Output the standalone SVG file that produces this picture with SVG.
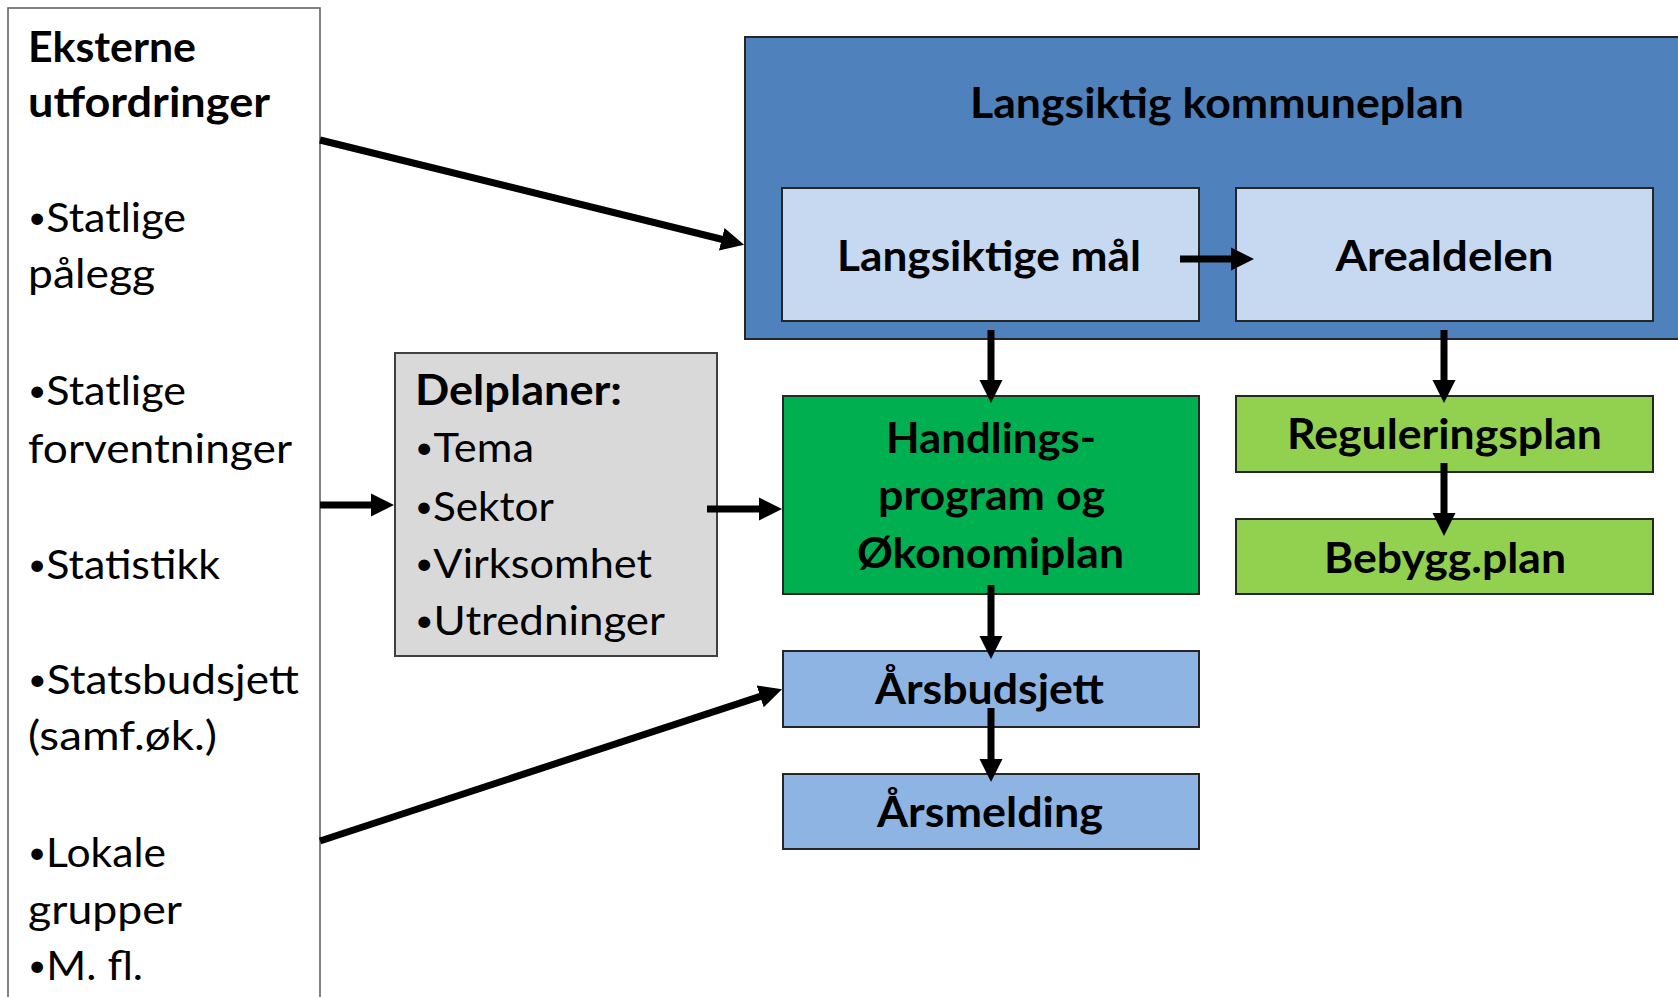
<svg xmlns="http://www.w3.org/2000/svg" width="1678" height="997" viewBox="0 0 1678 997">
<defs>
<style>
.box{stroke:#262626;stroke-width:2}
.t{font-family:Lato,"Open Sans","Liberation Sans",sans-serif;font-size:42px;fill:#000}
.b{font-weight:bold}
.c{text-anchor:middle}
.r{font-size:41px}
.bu{font-size:30px}
.conn{stroke:#000;stroke-width:7;fill:none;marker-end:url(#ah)}
</style>
<marker id="ah" markerUnits="userSpaceOnUse" viewBox="0 -12 24 24" refX="1" refY="0" markerWidth="24" markerHeight="24" orient="auto">
<path d="M0,-11.5 L23,0 L0,11.5 Z" fill="#000"/>
</marker>
</defs>
<rect width="1678" height="997" fill="#fff"/>

<g id="eksterne">
<rect x="8" y="8" width="312" height="1010" fill="#fff" stroke="#595959" stroke-width="1.5"/>
<text class="t b" x="28" y="62" textLength="168" lengthAdjust="spacingAndGlyphs">Eksterne</text>
<text class="t b" x="28" y="117" textLength="242" lengthAdjust="spacingAndGlyphs">utfordringer</text>
<text class="t r" x="28" y="232" textLength="158" lengthAdjust="spacingAndGlyphs"><tspan class="bu" dy="-4">•</tspan><tspan dy="4">Statlige</tspan></text>
<text class="t r" x="28" y="288" textLength="127" lengthAdjust="spacingAndGlyphs">pålegg</text>
<text class="t r" x="28" y="405" textLength="158" lengthAdjust="spacingAndGlyphs"><tspan class="bu" dy="-4">•</tspan><tspan dy="4">Statlige</tspan></text>
<text class="t r" x="28" y="463" textLength="264" lengthAdjust="spacingAndGlyphs">forventninger</text>
<text class="t r" x="28" y="579" textLength="192" lengthAdjust="spacingAndGlyphs"><tspan class="bu" dy="-4">•</tspan><tspan dy="4">Statistikk</tspan></text>
<text class="t r" x="28" y="694" textLength="271" lengthAdjust="spacingAndGlyphs"><tspan class="bu" dy="-4">•</tspan><tspan dy="4">Statsbudsjett</tspan></text>
<text class="t r" x="28" y="750" textLength="189" lengthAdjust="spacingAndGlyphs">(samf.øk.)</text>
<text class="t r" x="28" y="867" textLength="138" lengthAdjust="spacingAndGlyphs"><tspan class="bu" dy="-4">•</tspan><tspan dy="4">Lokale</tspan></text>
<text class="t r" x="28" y="924" textLength="154" lengthAdjust="spacingAndGlyphs">grupper</text>
<text class="t r" x="28" y="980" textLength="115" lengthAdjust="spacingAndGlyphs"><tspan class="bu" dy="-4">•</tspan><tspan dy="4">M. fl.</tspan></text>
</g>

<g id="kommuneplan">
<rect class="box" x="745" y="37" width="1000" height="302" fill="#4F81BD"/>
<text class="t b c" x="1217" y="118" textLength="494" lengthAdjust="spacingAndGlyphs">Langsiktig kommuneplan</text>
</g>

<g id="langsiktige-maal">
<rect class="box" x="782" y="188" width="417" height="133" fill="#C6D9F1"/>
<text class="t b c" x="989" y="271" textLength="304" lengthAdjust="spacingAndGlyphs">Langsiktige mål</text>
</g>

<g id="arealdelen">
<rect class="box" x="1236" y="188" width="417" height="133" fill="#C6D9F1"/>
<text class="t b c" x="1444.5" y="271" textLength="218" lengthAdjust="spacingAndGlyphs">Arealdelen</text>
</g>

<g id="delplaner">
<rect x="395" y="353" width="322" height="303" fill="#D9D9D9" stroke="#404040" stroke-width="2"/>
<text class="t b" x="415" y="405" textLength="207" lengthAdjust="spacingAndGlyphs">Delplaner:</text>
<text class="t r" x="415" y="462" textLength="119" lengthAdjust="spacingAndGlyphs"><tspan class="bu" dy="-4">•</tspan><tspan dy="4">Tema</tspan></text>
<text class="t r" x="415" y="521" textLength="139" lengthAdjust="spacingAndGlyphs"><tspan class="bu" dy="-4">•</tspan><tspan dy="4">Sektor</tspan></text>
<text class="t r" x="415" y="578" textLength="237" lengthAdjust="spacingAndGlyphs"><tspan class="bu" dy="-4">•</tspan><tspan dy="4">Virksomhet</tspan></text>
<text class="t r" x="415" y="635" textLength="250" lengthAdjust="spacingAndGlyphs"><tspan class="bu" dy="-4">•</tspan><tspan dy="4">Utredninger</tspan></text>
</g>

<g id="handlingsprogram">
<rect class="box" x="783" y="396" width="416" height="198" fill="#00B050"/>
<text class="t b c" x="991" y="453" textLength="210" lengthAdjust="spacingAndGlyphs">Handlings-</text>
<text class="t b c" x="991.5" y="510" textLength="227" lengthAdjust="spacingAndGlyphs">program og</text>
<text class="t b c" x="990.5" y="568" textLength="267" lengthAdjust="spacingAndGlyphs">Økonomiplan</text>
</g>

<g id="reguleringsplan">
<rect class="box" x="1236" y="396" width="417" height="76" fill="#92D050"/>
<text class="t b c" x="1444.5" y="449" textLength="315" lengthAdjust="spacingAndGlyphs">Reguleringsplan</text>
</g>

<g id="bebyggplan">
<rect class="box" x="1236" y="519" width="417" height="75" fill="#92D050"/>
<text class="t b c" x="1445" y="573" textLength="242" lengthAdjust="spacingAndGlyphs">Bebygg.plan</text>
</g>

<g id="aarsbudsjett">
<rect class="box" x="783" y="651" width="416" height="76" fill="#8DB4E2"/>
<text class="t b c" x="989.5" y="704" textLength="229" lengthAdjust="spacingAndGlyphs">Årsbudsjett</text>
</g>

<g id="aarsmelding">
<rect class="box" x="783" y="774" width="416" height="75" fill="#8DB4E2"/>
<text class="t b c" x="990" y="827" textLength="226" lengthAdjust="spacingAndGlyphs">Årsmelding</text>
</g>

<g id="connectors">
<line class="conn" x1="320" y1="140" x2="722.7" y2="239.5"/>
<line class="conn" x1="320" y1="505" x2="372" y2="505"/>
<line class="conn" x1="707" y1="509" x2="760" y2="509"/>
<line class="conn" x1="320" y1="841" x2="761.1" y2="696.1"/>
<line class="conn" x1="1180" y1="259" x2="1232" y2="259"/>
<line class="conn" x1="991" y1="330" x2="991" y2="381"/>
<line class="conn" x1="1444" y1="330" x2="1444" y2="381"/>
<line class="conn" x1="991" y1="585" x2="991" y2="637"/>
<line class="conn" x1="991" y1="708" x2="991" y2="760"/>
<line class="conn" x1="1444" y1="463" x2="1444" y2="514"/>
</g>
</svg>
